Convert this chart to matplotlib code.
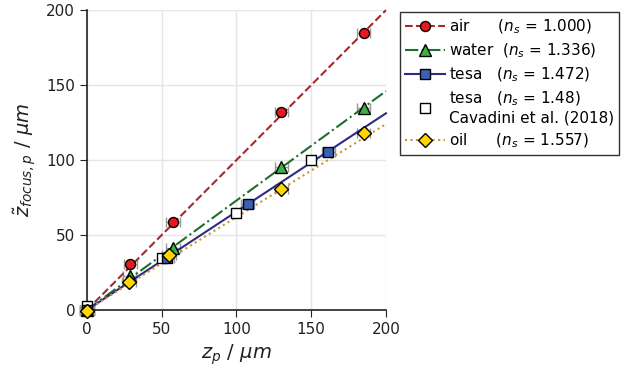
import numpy as np
import matplotlib
matplotlib.use("Agg")
import matplotlib.pyplot as plt
from matplotlib.lines import Line2D

# data
air_x = [0, 29, 57.5, 130, 185]
air_y = [0, 31, 58.5, 132, 184.5]
water_x = [0, 28.5, 57.5, 130, 185]
water_y = [0, 22.5, 41.5, 95.5, 135]
tesa_x = [0, 53.5, 107.5, 161.5]
tesa_y = [0, 35, 70.5, 105.5]
cav_x = [0, 50, 100, 150]
cav_y = [2.5, 34.5, 65, 100]
oil_x = [0, 28, 55, 130, 185]
oil_y = [-1, 18.5, 36.5, 81, 118]
slopes = {"air": 1.0, "water": 0.73, "tesa": 0.656, "oil": 0.62}
labels = {
    "air": "air      ($n_s$ = 1.000)",
    "water": "water  ($n_s$ = 1.336)",
    "tesa": "tesa   ($n_s$ = 1.472)",
    "cav": "tesa   ($n_s$ = 1.48)\nCavadini et al. (2018)",
    "oil": "oil      ($n_s$ = 1.557)",
}
xerr_val = 4.5

fig = plt.figure(figsize=(6.21, 3.72), dpi=100)
ax = fig.add_axes([0.140, 0.1667, 0.4815, 0.806])

xl = np.array([0, 200])
series = [
    ("air", air_x, air_y, "--", "#a52a2a", "o", "#e8191e", 7.2),
    ("water", water_x, water_y, "-.", "#1e6e2e", "^", "#3cb043", 8.5),
    ("tesa", tesa_x, tesa_y, "-", "#2c2c86", "s", "#3a5fb5", 7.2),
    ("oil", oil_x, oil_y, ":", "#c8962a", "D", "#ffd700", 7.5),
]
for name, xs, ys, ls, lc, mk, mc, ms in series:
    ax.errorbar(xs, ys, xerr=xerr_val, fmt="none", ecolor="#999999",
                capsize=3.5, elinewidth=1, zorder=2)
for name, xs, ys, ls, lc, mk, mc, ms in series:
    ax.plot(xl, slopes[name] * xl, ls=ls, color=lc, lw=1.5, zorder=3)
ax.plot(cav_x, cav_y, "s", mfc="white", mec="black", ms=7.2, mew=1, zorder=4)
for name, xs, ys, ls, lc, mk, mc, ms in series:
    ax.plot(xs, ys, mk, mfc=mc, mec="black", ms=ms, mew=1, zorder=5)

hs = []
for name, xs, ys, ls, lc, mk, mc, ms in series:
    hs.append(Line2D([], [], ls=ls, color=lc, lw=1.5, marker=mk, mfc=mc, mec="black", ms=ms))
hcav = Line2D([], [], ls="none", marker="s", mfc="white", mec="black", ms=7.2)
hs.insert(3, hcav)
labs = [labels["air"], labels["water"], labels["tesa"], labels["cav"], labels["oil"]]
leg = fig.legend(hs, labs, loc="upper left", bbox_to_anchor=(0.644, 0.968),
                 fontsize=11, frameon=True, fancybox=False, edgecolor="black",
                 handlelength=2.6, handletextpad=0.25, borderpad=0.35,
                 labelspacing=0.38, borderaxespad=0)
leg.get_frame().set_linewidth(1.0)

ax.set_xlim(0, 200)
ax.set_ylim(0, 200)
ax.set_xticks([0, 50, 100, 150, 200])
ax.set_yticks([0, 50, 100, 150, 200])
ax.grid(True, color="#e5e5e5", lw=1)
ax.set_axisbelow(True)
for s in ["top", "right"]:
    ax.spines[s].set_visible(False)
for s in ["left", "bottom"]:
    ax.spines[s].set_color("#222222")
    ax.spines[s].set_linewidth(1.2)
ax.tick_params(labelsize=11, length=5, color="#222222", labelcolor="#222222")
ax.set_xlabel(r"$z_p\ /\ \mu m$", fontsize=14, color="#222222")
ax.set_ylabel(r"$\tilde{z}_{focus,p}\ /\ \mu m$", fontsize=14, color="#222222", labelpad=6)
for art in ax.lines + ax.collections:
    art.set_clip_on(False)

fig.savefig("out.png", dpi=100)
